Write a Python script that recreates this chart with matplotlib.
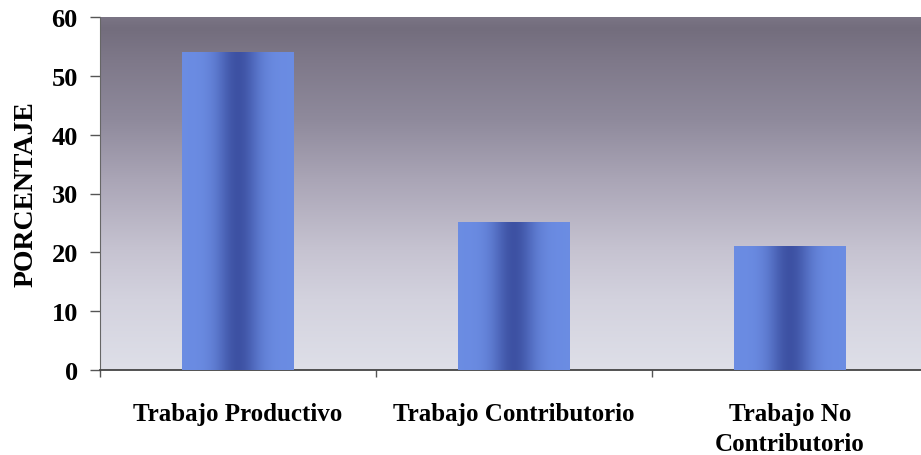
import numpy as np
import matplotlib
matplotlib.use("Agg")
import matplotlib.pyplot as plt
from matplotlib.colors import LinearSegmentedColormap

categories = ["Trabajo Productivo", "Trabajo Contributorio", "Trabajo No\nContributorio"]
porcentajes = [54, 25, 21]
y_ticks = [0, 10, 20, 30, 40, 50, 60]

plt.rcParams["font.family"] = ["Liberation Serif", "DejaVu Serif"]
plt.rcParams["font.weight"] = "bold"

fig = plt.figure(figsize=(9.21, 4.56), dpi=100)
ax = fig.add_axes([100 / 921, 1 - 371 / 456, 828 / 921, 353 / 456])

ax.set_xlim(-0.5, 2.5)
ax.set_ylim(0, 60)

# vertical background gradient: dark mauve-gray at top, pale lavender at bottom
bg_cmap = LinearSegmentedColormap.from_list(
    "bg",
    [(0.0, "#dedfe8"), (0.2, "#d3d2de"), (0.34, "#c6c3d1"),
     (0.54, "#aaa5b6"), (0.71, "#8f8a9c"), (0.88, "#7e7889"),
     (0.97, "#736d7d"), (1.0, "#7a7484")],
)
grad = np.linspace(0, 1, 256).reshape(-1, 1)
ax.imshow(grad, cmap=bg_cmap, aspect="auto", origin="lower",
          extent=(-0.5, 2.5, 0, 60), zorder=0, interpolation="bicubic")

# bars with a soft dark vertical stripe through the middle
bar_width = 0.405
bars = ax.bar(range(len(categories)), porcentajes, width=bar_width,
              color="none", edgecolor="none", zorder=2)
light = np.array([0.42, 0.55, 0.89])
dark = np.array([0.24, 0.32, 0.64])
u = np.linspace(0, 1, 200)
w = np.exp(-((u - 0.5) / 0.19) ** 2)
stripe = light[None, :] * (1 - w[:, None]) + dark[None, :] * w[:, None]
stripe = stripe[None, :, :]
for b in bars:
    x0, h, bw = b.get_x(), b.get_height(), b.get_width()
    ax.imshow(stripe, aspect="auto", extent=(x0, x0 + bw, 0, h),
              zorder=3, interpolation="bicubic")

ax.set_xlim(-0.5, 2.5)
ax.set_ylim(0, 60)

# category boundaries as major ticks, names on minor ticks
ax.set_xticks([-0.5, 0.5, 1.5, 2.5])
ax.set_xticklabels([])
ax.set_xticks(range(len(categories)), minor=True)
ax.set_xticklabels(categories, minor=True, fontsize=18, fontweight="bold",
                   linespacing=1.4)
ax.tick_params(axis="x", which="minor", length=0, pad=23)
ax.tick_params(axis="x", which="major", length=5, width=1, color="#555555")

ax.set_yticks(y_ticks)
ax.set_yticklabels([str(t) for t in y_ticks], fontsize=19, fontweight="bold")
ax.tick_params(axis="y", length=7, width=1, color="#555555", pad=9)

ax.set_ylabel("PORCENTAJE", fontsize=20, fontweight="bold")
ax.yaxis.set_label_coords(-0.074, 0.5)

for s in ["top", "right"]:
    ax.spines[s].set_visible(False)
ax.spines["left"].set_color("#666666")
ax.spines["bottom"].set_color("#444444")
ax.spines["bottom"].set_linewidth(1.3)

fig.savefig("out.png", dpi=100)
